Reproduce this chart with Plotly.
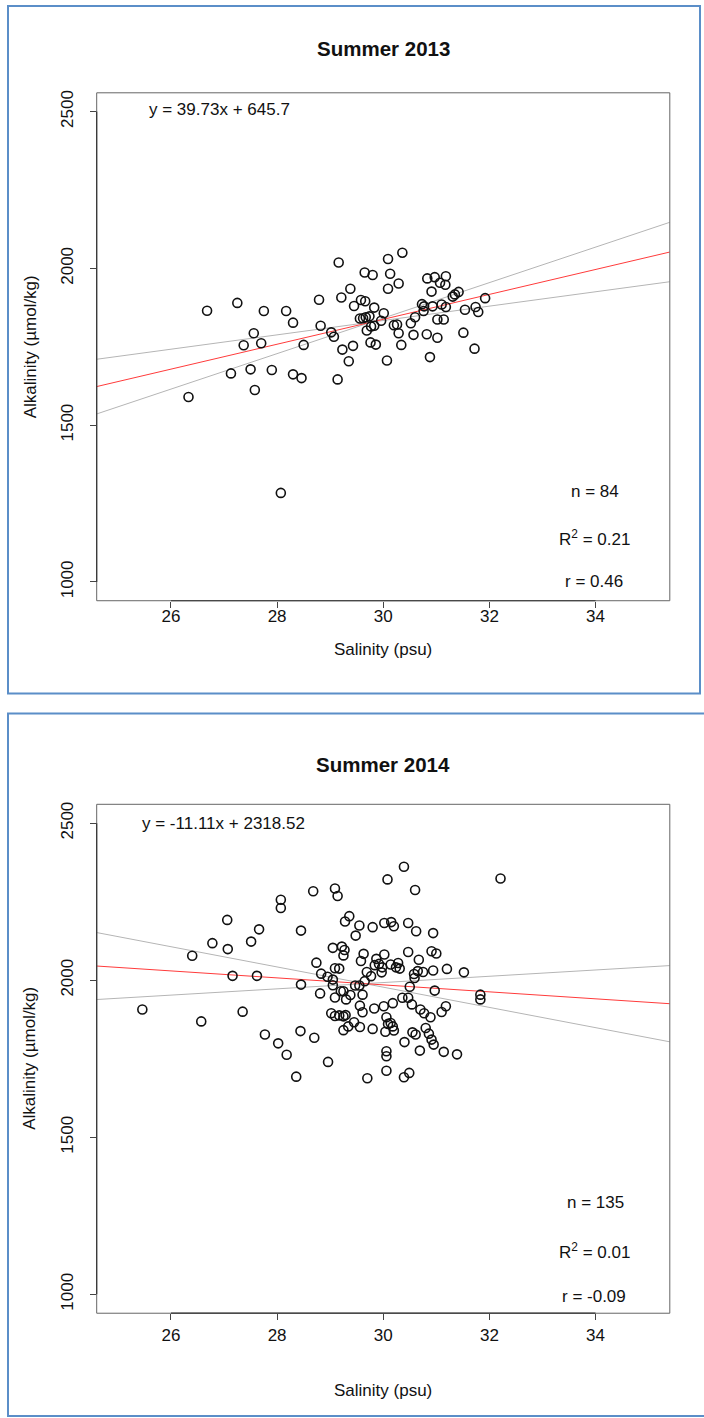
import plotly.graph_objects as go
import numpy as np

# ---------------- data ----------------
sal_2013 = [26.33, 26.68, 27.13, 27.25, 27.37, 27.50, 27.56, 27.58, 27.70, 27.75,
            27.90, 28.07, 28.17, 28.30, 28.30, 28.46, 28.50, 28.79, 28.82,
            29.16, 30.09, 30.36, 29.65, 29.80, 30.13, 30.29, 30.09, 29.38, 29.21,
            29.58, 29.66, 29.45, 29.83, 30.01, 29.56, 29.62, 29.67, 29.74, 29.83,
            29.77, 30.20, 30.26, 29.96, 29.69, 30.29, 29.02, 29.07, 29.76, 29.86,
            30.34, 29.23, 29.43, 29.35, 30.07, 29.14, 30.52, 30.60, 30.57, 30.82,
            31.02, 30.88, 30.76, 30.73, 30.77, 30.93, 31.10, 31.18, 31.02, 31.14,
            30.83, 30.97, 31.18, 31.07, 31.17, 30.91, 31.42, 31.31, 31.35, 31.54,
            31.74, 31.79, 31.92, 31.51, 31.72]
alk_2013 = [1590, 1865, 1665, 1890, 1755, 1678, 1793, 1612, 1761, 1864,
            1676, 1284, 1864, 1827, 1662, 1650, 1756, 1900, 1817,
            2019, 2030, 2050, 1987, 1979, 1983, 1952, 1935, 1935, 1907,
            1899, 1895, 1880, 1875, 1857, 1840, 1841, 1844, 1847, 1817,
            1815, 1819, 1821, 1833, 1802, 1793, 1796, 1782, 1764, 1757,
            1756, 1741, 1753, 1704, 1706, 1646, 1825, 1844, 1788, 1790,
            1779, 1717, 1864, 1886, 1879, 1879, 1885, 1877, 1837, 1837,
            1968, 1972, 1975, 1954, 1948, 1926, 1925, 1910, 1917, 1868,
            1877, 1861, 1905, 1795, 1744]

sal_2014 = [25.46, 26.40, 26.78, 27.06, 27.07, 27.16, 27.51, 27.66, 27.62, 28.07,
            28.07, 27.35, 26.57, 27.77, 28.02, 28.18, 28.36, 28.45, 28.45, 28.44,
            30.08, 28.68, 29.09, 29.14, 29.36, 29.28, 29.55, 29.80, 30.02, 29.48,
            29.05, 29.22, 29.25, 29.63, 29.58, 29.87, 30.02, 29.92, 29.98, 29.97,
            29.84, 29.69, 29.77, 28.74, 28.83, 28.95, 29.09, 29.17, 29.05, 29.05,
            28.81, 29.09, 29.20, 29.25, 29.30, 29.38, 29.47, 29.55, 29.65, 29.61,
            29.56, 29.61, 29.83, 29.02, 29.09, 29.17, 29.25, 29.29, 29.34, 29.45,
            29.25, 29.56, 29.80, 30.04, 28.70, 28.96, 29.70, 30.06, 30.06, 30.06,
            30.06, 30.39, 30.60, 30.15, 30.20, 30.47, 30.62, 30.94, 30.47, 30.91,
            31.00, 30.67, 30.14, 30.28, 30.31, 30.24, 30.58, 30.65, 30.75, 30.59,
            30.94, 31.20, 31.52, 30.50, 30.97, 31.83, 31.83, 30.18, 30.36, 30.47,
            30.54, 30.70, 30.77, 30.89, 31.18, 31.10, 30.09, 30.14, 30.18, 30.20,
            30.80, 30.86, 30.91, 30.95, 30.55, 30.61, 30.40, 30.69, 31.14, 31.39,
            30.39, 30.49, 32.21, 29.27, 30.01]
alk_2014 = [1907, 2078, 2118, 2192, 2099, 2014, 2123, 2162, 2014, 2256,
            2230, 1900, 1869, 1827, 1799, 1763, 1693, 2158, 1986, 1838,
            2321, 2283, 2292, 2268, 2204, 2187, 2174, 2169, 2182, 2142,
            2103, 2107, 2079, 2084, 2061, 2068, 2082, 2052, 2041, 2025,
            2048, 2026, 2013, 2056, 2021, 2011, 2038, 2037, 2002, 1984,
            1958, 1945, 1965, 1965, 1939, 1953, 1983, 1983, 1997, 1954,
            1919, 1898, 1910, 1895, 1886, 1888, 1885, 1889, 1853, 1866,
            1841, 1851, 1845, 1836, 1817, 1740, 1688, 1712, 1774, 1758,
            1882, 2361, 2287, 2185, 2172, 2182, 2156, 2150, 2090, 2092,
            2085, 2065, 2050, 2055, 2037, 2041, 2020, 2029, 2026, 2007,
            2031, 2036, 2025, 1979, 1967, 1954, 1939, 1927, 1944, 1944,
            1923, 1907, 1895, 1882, 1917, 1899, 1861, 1864, 1853, 1840,
            1848, 1830, 1811, 1795, 1834, 1827, 1803, 1776, 1772, 1764,
            1691, 1705, 2324, 2096, 1917]

titles = ["Summer 2013", "Summer 2014"]
equations = ["y = 39.73x + 645.7", "y = -11.11x + 2318.52"]
n_labels = ["n = 84", "n = 135"]
r2_labels = ["R<sup>2</sup> = 0.21", "R<sup>2</sup> = 0.01"]
r_labels = ["r = 0.46", "r = -0.09"]

slopes = [39.73, -11.11]
intercepts = [645.7, 2318.52]
slope_ci_lo = [22.9, -32.2]
slope_ci_hi = [56.6, 10.0]

x_ticks = [26, 28, 30, 32, 34]
y_ticks = [1000, 1500, 2000, 2500]
x_range = [24.6, 35.4]
y_range = [940, 2560]

assert len(sal_2013) == len(alk_2013)
assert len(sal_2014) == len(alk_2014)

# ---------------- layout helpers ----------------
W, H = 704, 1418
FONT = "Liberation Sans, Arial, Helvetica, sans-serif"
INK = "#111111"


def px(x):
    return x / W


def py(y):
    return 1 - y / H


# panel geometry (pixels) and text positions
panels = [
    dict(left=96.7, right=669.8, top=90, bottom=599, title_y=46, eq_x=219, eq_y=107,
         n_y=490, r2_y=536, r_y=580, xlab_y=648, ylab_y=345, xtick_standoff=-6),
    dict(left=96.7, right=669.8, top=803, bottom=1313, title_y=763, eq_x=223, eq_y=822,
         n_y=1202, r2_y=1251, r_y=1296, xlab_y=1390, ylab_y=1058, xtick_standoff=0),
]

fig = go.Figure()
annotations = []
shapes = []

datasets = [(sal_2013, alk_2013), (sal_2014, alk_2014)]


def label(text, x, y, size=17, angle=0, bold=False):
    return dict(text=("<b>%s</b>" % text) if bold else text, x=px(x), y=py(y),
                xref="paper", yref="paper", xanchor="center", yanchor="middle",
                showarrow=False, textangle=angle,
                font=dict(family=FONT, size=size, color=INK))


for i, (pan, (xs, ys)) in enumerate(zip(panels, datasets)):
    ax = "" if i == 0 else str(i + 1)
    xa, ya = "x" + ax, "y" + ax
    xs_arr = np.array(xs)
    xl = np.array(x_range)

    # slope-CI lines pivoting on the mean, then the fitted line
    xm = xs_arr.mean()
    ym = slopes[i] * xm + intercepts[i]
    for s in (slope_ci_lo[i], slope_ci_hi[i]):
        fig.add_trace(go.Scatter(x=xl, y=ym + s * (xl - xm), mode="lines",
                                 line=dict(color="#b5b5b5", width=1), xaxis=xa, yaxis=ya,
                                 showlegend=False, hoverinfo="skip"))
    fig.add_trace(go.Scatter(x=xl, y=slopes[i] * xl + intercepts[i], mode="lines",
                             line=dict(color="#ff3b3b", width=1), xaxis=xa, yaxis=ya,
                             showlegend=False, hoverinfo="skip"))
    fig.add_trace(go.Scatter(x=xs, y=ys, mode="markers",
                             marker=dict(symbol="circle-open", size=9, color=INK,
                                         line=dict(width=1.6, color=INK)),
                             xaxis=xa, yaxis=ya, showlegend=False))

    axis_common = dict(showgrid=False, zeroline=False, showline=False, ticks="outside",
                       ticklen=6, tickwidth=1, tickcolor="#444444",
                       tickfont=dict(family=FONT, size=17, color=INK))
    fig.update_layout({
        "xaxis" + ax: dict(domain=[px(pan["left"]), px(pan["right"])], range=x_range,
                           tickvals=x_ticks, anchor=ya,
                           ticklabelstandoff=pan["xtick_standoff"], **axis_common),
        "yaxis" + ax: dict(domain=[py(pan["bottom"]), py(pan["top"])], range=y_range,
                           tickvals=y_ticks, anchor=xa, tickangle=-90,
                           ticklabelstandoff=10, **axis_common),
    })

    # plot box
    shapes.append(dict(type="rect", xref=xa + " domain", yref=ya + " domain",
                       x0=0, x1=1, y0=0, y1=1, line=dict(color="#666666", width=1)))
    # R-style axis lines spanning first to last tick
    shapes.append(dict(type="line", xref=xa, yref=ya + " domain", x0=x_ticks[0],
                       x1=x_ticks[-1], y0=0, y1=0, line=dict(color="#333333", width=1.2)))
    shapes.append(dict(type="line", xref=xa + " domain", yref=ya, x0=0, x1=0,
                       y0=y_ticks[0], y1=y_ticks[-1], line=dict(color="#333333", width=1.2)))

    cx = 383
    annotations += [
        label(titles[i], cx, pan["title_y"], size=20.5, bold=True),
        label("Salinity (psu)", cx, pan["xlab_y"]),
        label("Alkalinity (µmol/kg)", 30, pan["ylab_y"], angle=-90),
        label(equations[i], pan["eq_x"], pan["eq_y"]),
        label(n_labels[i], 595, pan["n_y"]),
        label(r2_labels[i], 594, pan["r2_y"]),
        label(r_labels[i], 594, pan["r_y"]),
    ]

# blue frames around each panel
shapes.append(dict(type="rect", xref="paper", yref="paper", x0=px(8), x1=px(700),
                   y0=py(692), y1=py(3), line=dict(color="#5b8ec8", width=2)))
shapes.append(dict(type="rect", xref="paper", yref="paper", x0=px(8), x1=px(706),
                   y0=py(1416), y1=py(712), line=dict(color="#5b8ec8", width=2)))

fig.update_layout(width=W, height=H, margin=dict(l=0, r=0, t=0, b=0),
                  paper_bgcolor="white", plot_bgcolor="white",
                  annotations=annotations, shapes=shapes, showlegend=False)

fig.write_html("out.html", config={"displayModeBar": False},
               post_script="document.body.style.margin='0px';"
                           "document.body.style.overflow='hidden';")
